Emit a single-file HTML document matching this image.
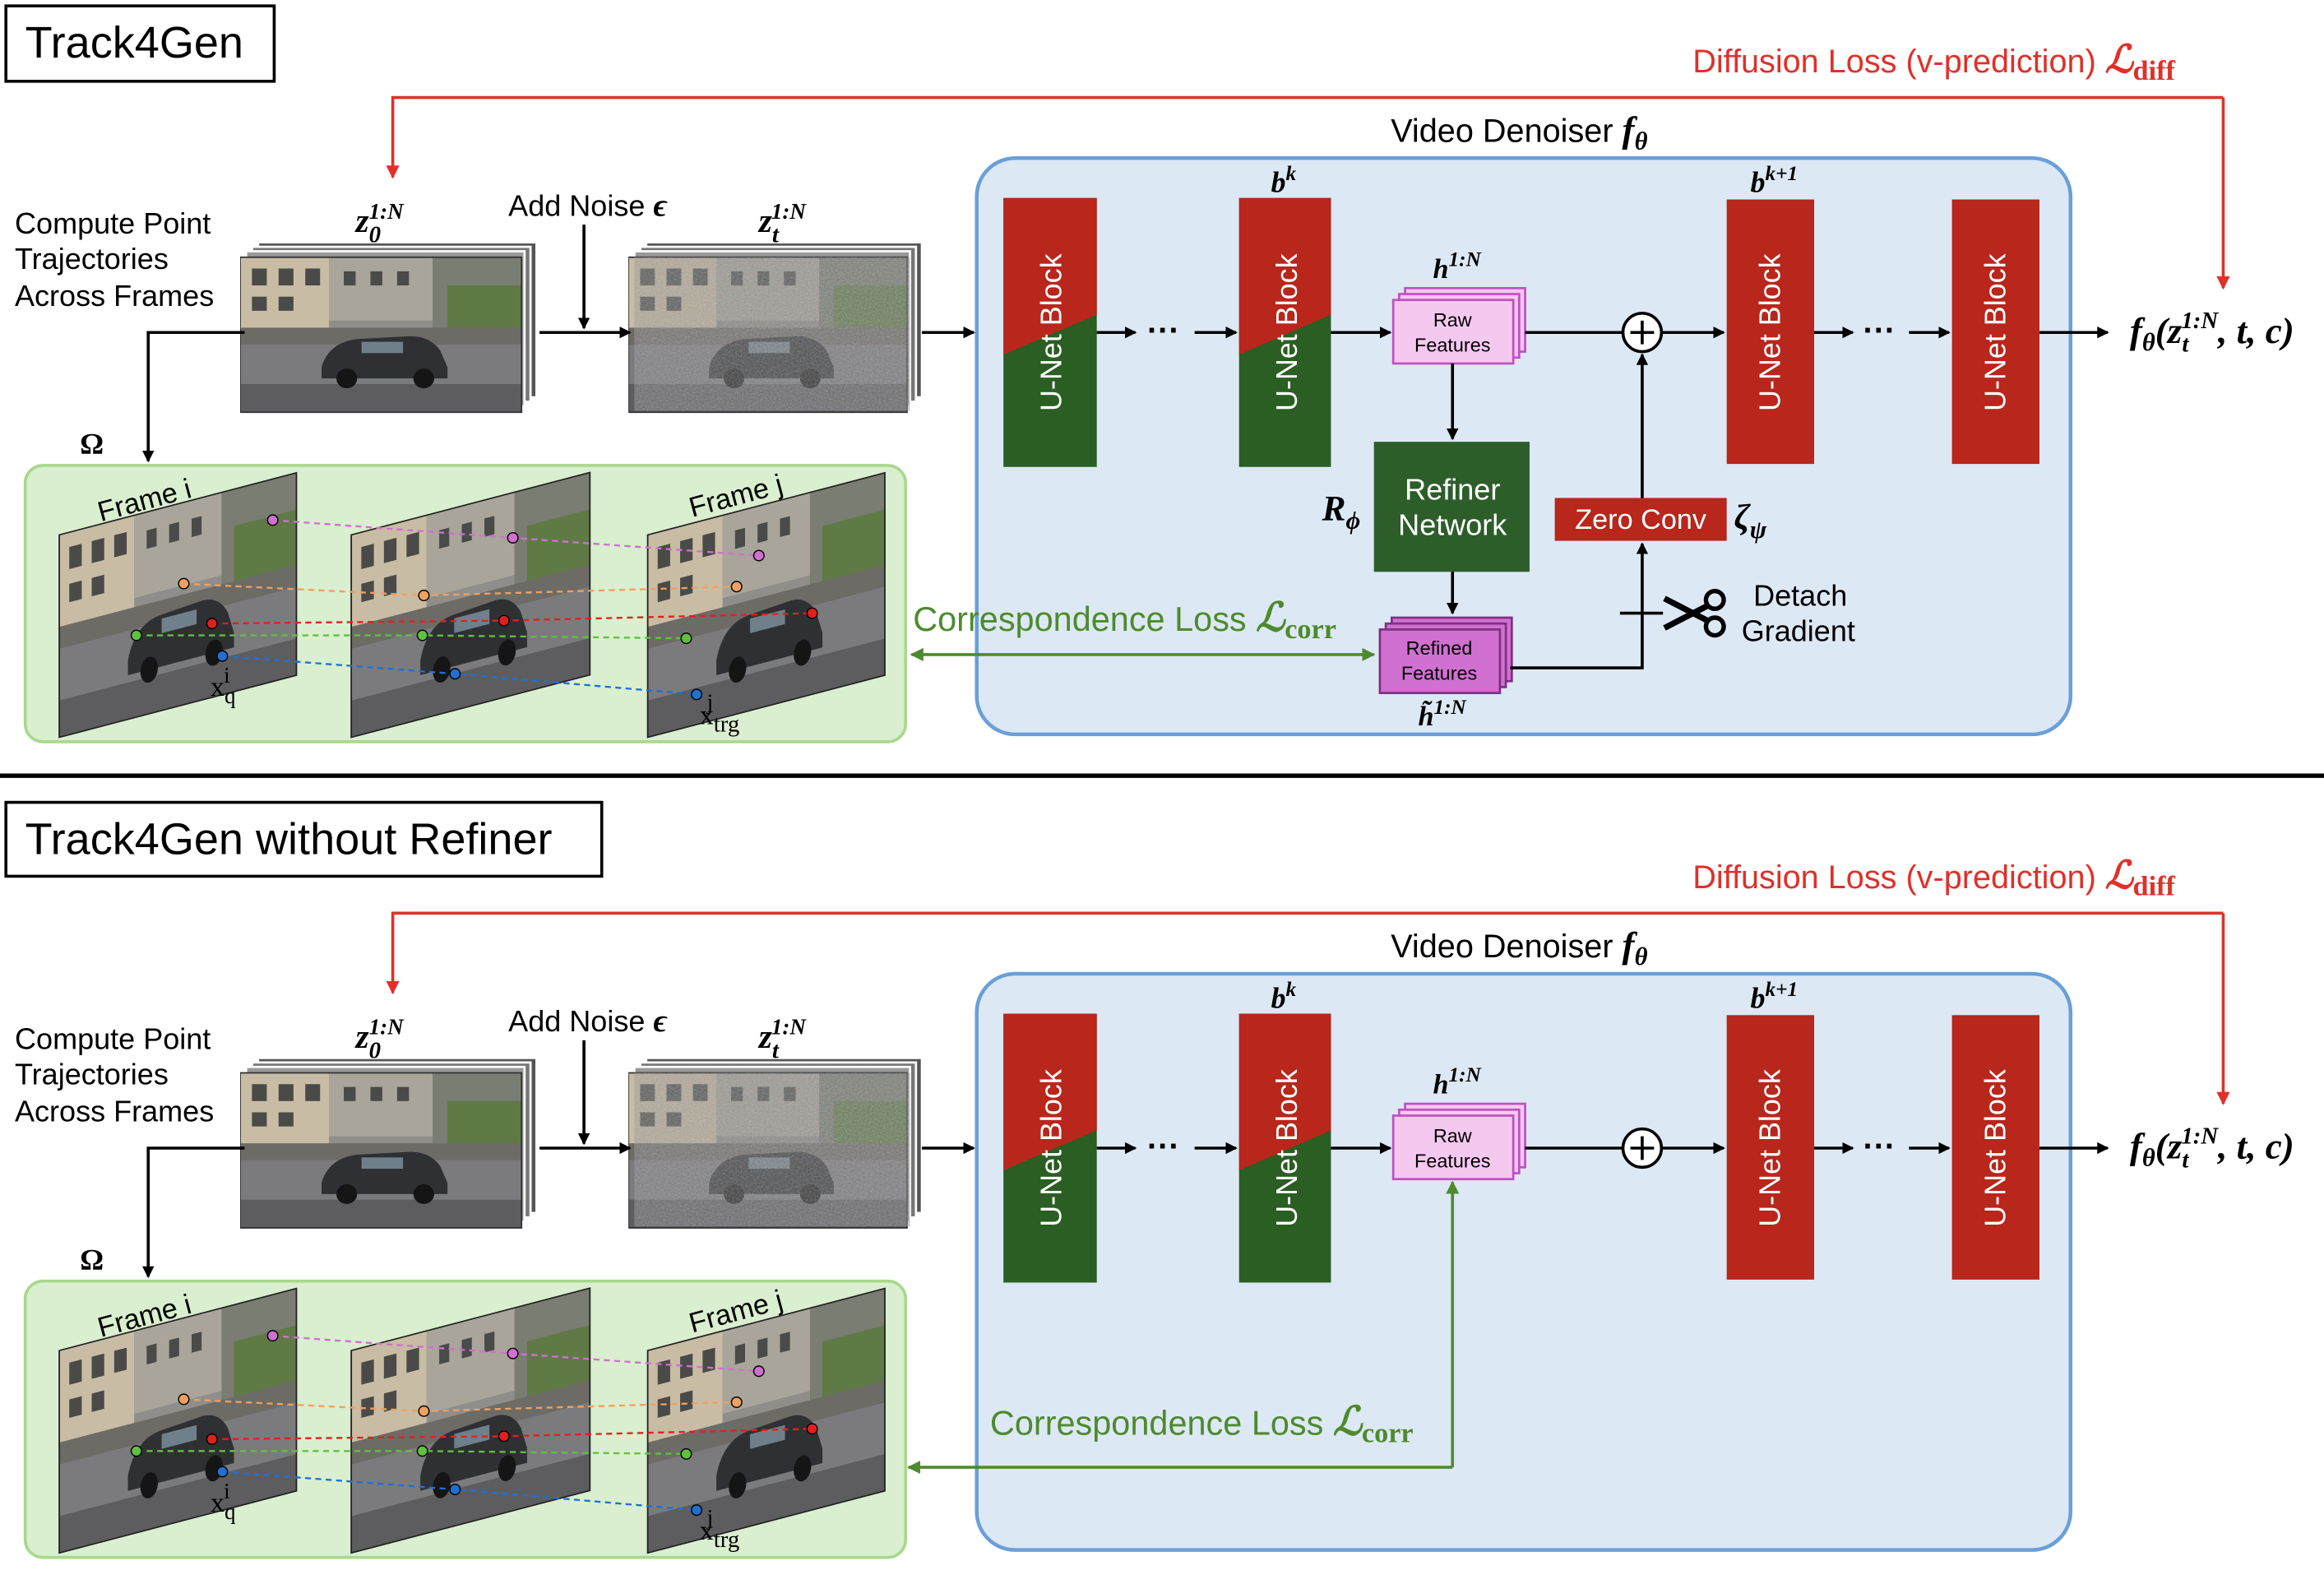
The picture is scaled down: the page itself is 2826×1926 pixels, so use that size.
<!DOCTYPE html>
<html><head><meta charset="utf-8"><style>html,body{margin:0;padding:0;background:#fff}svg{display:block}</style></head>
<body>
<svg width="2826" height="1926" viewBox="0 0 1568 1072" preserveAspectRatio="none" xmlns="http://www.w3.org/2000/svg" font-family="Liberation Sans, sans-serif">
<defs>
<marker id="ab" markerWidth="8" markerHeight="8" refX="7" refY="4" orient="auto" markerUnits="userSpaceOnUse"><path d="M0,0 L8,4 L0,8 z" fill="#000"/></marker>
<marker id="ar" markerWidth="9" markerHeight="9" refX="8" refY="4.5" orient="auto" markerUnits="userSpaceOnUse"><path d="M0,0 L9,4.5 L0,9 z" fill="#e0302a"/></marker>
<marker id="ag" markerWidth="9" markerHeight="9" refX="8" refY="4.5" orient="auto-start-reverse" markerUnits="userSpaceOnUse"><path d="M0,0 L9,4.5 L0,9 z" fill="#4e8a2e"/></marker>
<filter id="nz"><feTurbulence type="fractalNoise" baseFrequency="0.9" numOctaves="1" result="t"/><feColorMatrix type="saturate" values="0.6" in="t" result="c"/><feComposite in="c" in2="SourceGraphic" operator="in"/></filter>
<symbol id="scene" viewBox="0 0 190 110" preserveAspectRatio="none">
<rect width="190" height="110" fill="#8f8e8a"/>
<rect x="0" y="0" width="60" height="50" fill="#c9bca4"/>
<rect x="60" y="0" width="70" height="45" fill="#a9a59b"/>
<rect x="130" y="0" width="60" height="52" fill="#7a7d72"/>
<g fill="#4a4a48"><rect x="8" y="8" width="10" height="12"/><rect x="26" y="8" width="10" height="12"/><rect x="44" y="8" width="10" height="12"/><rect x="70" y="10" width="8" height="10"/><rect x="88" y="10" width="8" height="10"/><rect x="106" y="10" width="8" height="10"/><rect x="8" y="28" width="10" height="10"/><rect x="26" y="28" width="10" height="10"/></g>
<rect x="140" y="20" width="50" height="40" fill="#5f7a45"/>
<rect x="0" y="50" width="190" height="12" fill="#6d6b66"/>
<rect x="0" y="62" width="190" height="48" fill="#7b7b7e"/>
<rect x="0" y="90" width="190" height="20" fill="#5d5d60"/>
<path d="M55,78 Q60,60 80,58 L115,56 Q128,56 135,66 L140,78 L140,86 L55,86z" fill="#2f3033"/>
<circle cx="72" cy="86" r="7" fill="#151515"/><circle cx="124" cy="86" r="7" fill="#151515"/>
<rect x="82" y="60" width="28" height="8" fill="#70808a"/>
</symbol>
<symbol id="stack" viewBox="0 0 200 115" preserveAspectRatio="none">
<rect x="12" y="0" width="186" height="104" fill="#555" stroke="#fff" stroke-width="1.5"/>
<rect x="8" y="3" width="186" height="104" fill="#777" stroke="#fff" stroke-width="1.5"/>
<rect x="4" y="6" width="186" height="104" fill="#999" stroke="#fff" stroke-width="1.5"/>
<use href="#scene" x="0" y="10" width="188" height="104"/>
<rect x="0" y="10" width="188" height="104" fill="none" stroke="#333" stroke-width="1"/>
</symbol>
</defs>

<g id="panel">
<text x="10" y="158" font-size="20">Compute Point</text>
<text x="10" y="182" font-size="20">Trajectories</text>
<text x="10" y="207" font-size="20">Across Frames</text>
<text x="240" y="157" font-size="23" font-family="Liberation Serif, serif" font-weight="bold" font-style="italic">z<tspan font-size="16" dy="7">0</tspan><tspan font-size="15" dx="-8" dy="-16">1:N</tspan></text>
<text x="343" y="146" font-size="20">Add Noise <tspan font-family="Liberation Serif, serif" font-weight="bold" font-style="italic" font-size="22">ϵ</tspan></text>
<text x="512" y="157" font-size="23" font-family="Liberation Serif, serif" font-weight="bold" font-style="italic">z<tspan font-size="16" dy="7">t</tspan><tspan font-size="15" dx="-5" dy="-16">1:N</tspan></text>
<use href="#stack" x="162" y="164" width="202" height="116"/>
<g><use href="#stack" x="424" y="164" width="200" height="116"/><rect x="428" y="174" width="186" height="104" fill="#888" opacity="0.35"/><rect x="428" y="174" width="186" height="104" fill="#aaa" filter="url(#nz)" opacity="0.45"/></g>
<line x1="394" y1="152" x2="394" y2="222" stroke="#000" stroke-width="2" marker-end="url(#ab)"/>
<line x1="364" y1="225" x2="425" y2="225" stroke="#000" stroke-width="2" marker-end="url(#ab)"/>
<line x1="622" y1="225" x2="657" y2="225" stroke="#000" stroke-width="2" marker-end="url(#ab)"/>
<polyline points="165,225 100,225 100,312" fill="none" stroke="#000" stroke-width="2" marker-end="url(#ab)"/>
<text x="54" y="307" font-size="20" font-weight="bold" font-family="Liberation Serif, serif">Ω</text>

<rect x="17" y="315" width="594" height="187" rx="12" fill="#d9efcf" stroke="#a8d88c" stroke-width="2"/>
<g>
<g transform="matrix(1,-0.2625,0,1,40,362)"><use href="#scene" x="0" y="0" width="160" height="137"/><rect width="160" height="137" fill="none" stroke="#222"/></g>
<g transform="matrix(1,-0.2625,0,1,237,362)"><use href="#scene" x="0" y="0" width="161" height="137"/><rect width="161" height="137" fill="none" stroke="#222"/></g>
<g transform="matrix(1,-0.2625,0,1,437,362)"><use href="#scene" x="0" y="0" width="160" height="137"/><rect width="160" height="137" fill="none" stroke="#222"/></g>
</g>
<text x="68" y="353" font-size="19" transform="rotate(-15 68 353)">Frame i</text>
<text x="467" y="350" font-size="19" transform="rotate(-15 467 350)">Frame j</text>
<g stroke-width="1.3" stroke-dasharray="4,3" fill="none">
<polyline points="184,352 346,364 512,376" stroke="#d070d0"/>
<polyline points="124,395 286,403 497,397" stroke="#f0a060"/>
<polyline points="143,422 340,420 548,415" stroke="#e02020"/>
<polyline points="92,430 285,430 463,432" stroke="#60c040"/>
<polyline points="150,444 307,456 470,470" stroke="#2070d0"/>
</g>
<g stroke="#000" stroke-width="0.8">
<circle cx="184" cy="352" r="3.5" fill="#d070d0"/><circle cx="346" cy="364" r="3.5" fill="#d070d0"/><circle cx="512" cy="376" r="3.5" fill="#d070d0"/>
<circle cx="124" cy="395" r="3.5" fill="#f0a060"/><circle cx="286" cy="403" r="3.5" fill="#f0a060"/><circle cx="497" cy="397" r="3.5" fill="#f0a060"/>
<circle cx="143" cy="422" r="3.5" fill="#e02020"/><circle cx="340" cy="420" r="3.5" fill="#e02020"/><circle cx="548" cy="415" r="3.5" fill="#e02020"/>
<circle cx="92" cy="430" r="3.5" fill="#60c040"/><circle cx="285" cy="430" r="3.5" fill="#60c040"/><circle cx="463" cy="432" r="3.5" fill="#60c040"/>
<circle cx="150" cy="444" r="3.5" fill="#2070d0"/><circle cx="307" cy="456" r="3.5" fill="#2070d0"/><circle cx="470" cy="470" r="3.5" fill="#2070d0"/>
</g>
<text x="142" y="471" font-size="19" font-family="Liberation Serif, serif">x<tspan font-size="15" dy="5">q</tspan><tspan font-size="15" dx="-8" dy="-14">i</tspan></text>
<text x="472" y="490" font-size="19" font-family="Liberation Serif, serif">x<tspan font-size="16" dy="5">trg</tspan><tspan font-size="15" dx="-22" dy="-15">j</tspan></text>

<text x="1142" y="49" font-size="22" fill="#e0302a">Diffusion Loss (v-prediction) <tspan font-family="Liberation Serif, serif" font-weight="bold" font-style="italic" font-size="26">ℒ</tspan><tspan font-family="Liberation Serif, serif" font-weight="bold" font-size="19" dy="5">diff</tspan></text>
<polyline points="1500,66 265,66 265,120" fill="none" stroke="#e0302a" stroke-width="2" marker-end="url(#ar)"/>
<line x1="1500" y1="66" x2="1500" y2="195" stroke="#e0302a" stroke-width="2" marker-end="url(#ar)"/>

<text x="1025" y="96" font-size="22" text-anchor="middle">Video Denoiser <tspan font-family="Liberation Serif, serif" font-weight="bold" font-style="italic" font-size="25">f</tspan><tspan font-family="Liberation Serif, serif" font-weight="bold" font-style="italic" font-size="17" dy="5">θ</tspan></text>
<rect x="659" y="107" width="738" height="390" rx="26" fill="#dde8f5" stroke="#6a9fd8" stroke-width="2.5"/>

<g>
<rect x="677" y="134" width="63" height="182" fill="#2a5e22"/><polygon points="677,134 740,134 740,213 677,240" fill="#b8261c"/>
<text transform="translate(716,225) rotate(-90)" font-size="20" fill="#fff" text-anchor="middle">U-Net Block</text>
<rect x="836" y="134" width="62" height="182" fill="#2a5e22"/><polygon points="836,134 898,134 898,213 836,240" fill="#b8261c"/>
<text transform="translate(875,225) rotate(-90)" font-size="20" fill="#fff" text-anchor="middle">U-Net Block</text>
<rect x="1165" y="135" width="59" height="179" fill="#b8261c"/>
<text transform="translate(1201,225) rotate(-90)" font-size="20" fill="#fff" text-anchor="middle">U-Net Block</text>
<rect x="1317" y="135" width="59" height="179" fill="#b8261c"/>
<text transform="translate(1353,225) rotate(-90)" font-size="20" fill="#fff" text-anchor="middle">U-Net Block</text>
</g>
<text x="866" y="130" font-size="20" text-anchor="middle" font-family="Liberation Serif, serif" font-weight="bold" font-style="italic">b<tspan font-size="14" dy="-8">k</tspan></text>
<text x="1197" y="130" font-size="20" text-anchor="middle" font-family="Liberation Serif, serif" font-weight="bold" font-style="italic">b<tspan font-size="14" dy="-8">k+1</tspan></text>
<line x1="740" y1="225" x2="766" y2="225" stroke="#000" stroke-width="2" marker-end="url(#ab)"/>
<text x="785" y="231" font-size="22" text-anchor="middle" font-weight="bold">···</text>
<line x1="806" y1="225" x2="834" y2="225" stroke="#000" stroke-width="2" marker-end="url(#ab)"/>
<line x1="898" y1="225" x2="938" y2="225" stroke="#000" stroke-width="2" marker-end="url(#ab)"/>
<line x1="1224" y1="225" x2="1250" y2="225" stroke="#000" stroke-width="2" marker-end="url(#ab)"/>
<text x="1268" y="231" font-size="22" text-anchor="middle" font-weight="bold">···</text>
<line x1="1288" y1="225" x2="1315" y2="225" stroke="#000" stroke-width="2" marker-end="url(#ab)"/>
<line x1="1376" y1="225" x2="1422" y2="225" stroke="#000" stroke-width="2" marker-end="url(#ab)"/>
<text x="1437" y="232" font-size="25" font-family="Liberation Serif, serif" font-weight="bold" font-style="italic">f<tspan font-size="17" dy="5">θ</tspan><tspan dy="-5">(z</tspan><tspan font-size="16" dy="6">t</tspan><tspan font-size="16" dx="-5" dy="-16">1:N</tspan><tspan dy="10">, t, c)</tspan></text>

<text x="983" y="188" font-size="19" text-anchor="middle" font-family="Liberation Serif, serif" font-weight="bold" font-style="italic">h<tspan font-size="14" dy="-8">1:N</tspan></text>
<rect x="948" y="195" width="81" height="43" fill="#f5c8f0" stroke="#c050c0" stroke-width="1.5"/>
<rect x="944" y="199" width="81" height="43" fill="#f5c8f0" stroke="#c050c0" stroke-width="1.5"/>
<rect x="940" y="203" width="81" height="43" fill="#f5c8f0" stroke="#c050c0" stroke-width="1.5"/>
<text x="980" y="221" font-size="13" text-anchor="middle">Raw</text>
<text x="980" y="238" font-size="13" text-anchor="middle">Features</text>
<line x1="1029" y1="225" x2="1095" y2="225" stroke="#000" stroke-width="2"/>
<circle cx="1108" cy="225" r="13" fill="#fff" stroke="#000" stroke-width="2"/>
<path d="M1100,225 H1116 M1108,217 V233" stroke="#000" stroke-width="2"/>
<line x1="1121" y1="225" x2="1163" y2="225" stroke="#000" stroke-width="2" marker-end="url(#ab)"/>
</g>

<line x1="980" y1="246" x2="980" y2="297" stroke="#000" stroke-width="2" marker-end="url(#ab)"/>
<rect x="927" y="299" width="105" height="88" fill="#2d5e2a"/>
<text x="980" y="338" font-size="20" fill="#fff" text-anchor="middle">Refiner</text>
<text x="980" y="362" font-size="20" fill="#fff" text-anchor="middle">Network</text>
<text x="892" y="352" font-size="24" font-family="Liberation Serif, serif" font-weight="bold" font-style="italic">R<tspan font-size="17" dy="6">ϕ</tspan></text>
<line x1="980" y1="387" x2="980" y2="415" stroke="#000" stroke-width="2" marker-end="url(#ab)"/>
<rect x="939" y="418" width="81" height="43" fill="#d070d0" stroke="#803080" stroke-width="1.5"/>
<rect x="935" y="422" width="81" height="43" fill="#d070d0" stroke="#803080" stroke-width="1.5"/>
<rect x="931" y="426" width="81" height="43" fill="#d070d0" stroke="#803080" stroke-width="1.5"/>
<text x="971" y="443" font-size="13" text-anchor="middle">Refined</text>
<text x="971" y="460" font-size="13" text-anchor="middle">Features</text>
<text x="973" y="491" font-size="19" text-anchor="middle" font-family="Liberation Serif, serif" font-weight="bold" font-style="italic">h̃<tspan font-size="14" dy="-8">1:N</tspan></text>
<polyline points="1019,452 1108,452 1108,368" fill="none" stroke="#000" stroke-width="2" marker-end="url(#ab)"/>
<rect x="1049" y="337" width="116" height="29" fill="#b8261c"/>
<text x="1107" y="358" font-size="19" fill="#fff" text-anchor="middle">Zero Conv</text>
<text x="1170" y="358" font-size="24" font-family="Liberation Serif, serif" font-weight="bold" font-style="italic">ζ<tspan font-size="17" dy="6">ψ</tspan></text>
<line x1="1108" y1="337" x2="1108" y2="240" stroke="#000" stroke-width="2" marker-end="url(#ab)"/>
<line x1="1093" y1="415" x2="1122" y2="415" stroke="#000" stroke-width="2"/>
<g transform="translate(1143,415)" stroke="#000" stroke-width="3" fill="none">
<circle cx="14" cy="-9" r="6"/><circle cx="14" cy="9" r="6"/>
<path d="M9,-5 L-20,10 M9,5 L-20,-10" stroke-width="4"/>
</g>
<text x="1183" y="410" font-size="20">Detach</text>
<text x="1175" y="434" font-size="20">Gradient</text>
<text x="616" y="427" font-size="23" fill="#4e8a2e">Correspondence Loss <tspan font-family="Liberation Serif, serif" font-weight="bold" font-style="italic" font-size="27">ℒ</tspan><tspan font-family="Liberation Serif, serif" font-weight="bold" font-size="19" dy="5">corr</tspan></text>
<line x1="615" y1="443" x2="927" y2="443" stroke="#4e8a2e" stroke-width="2" marker-start="url(#ag)" marker-end="url(#ag)"/>

<rect x="4" y="4" width="181" height="51" fill="#fff" stroke="#000" stroke-width="2"/>
<text x="17" y="39" font-size="30">Track4Gen</text>

<line x1="0" y1="525" x2="1568" y2="525" stroke="#000" stroke-width="3"/>

<use href="#panel" transform="translate(0,552)"/>
<rect x="4" y="543" width="402" height="50" fill="#fff" stroke="#000" stroke-width="2"/>
<text x="17" y="578" font-size="30">Track4Gen without Refiner</text>
<polyline points="980,993 613,993" fill="none" stroke="#4e8a2e" stroke-width="2" marker-end="url(#ag)"/>
<line x1="980" y1="993" x2="980" y2="800" stroke="#4e8a2e" stroke-width="2" marker-end="url(#ag)"/>
<text x="668" y="971" font-size="23" fill="#4e8a2e">Correspondence Loss <tspan font-family="Liberation Serif, serif" font-weight="bold" font-style="italic" font-size="27">ℒ</tspan><tspan font-family="Liberation Serif, serif" font-weight="bold" font-size="19" dy="5">corr</tspan></text>
</svg>
</body></html>
